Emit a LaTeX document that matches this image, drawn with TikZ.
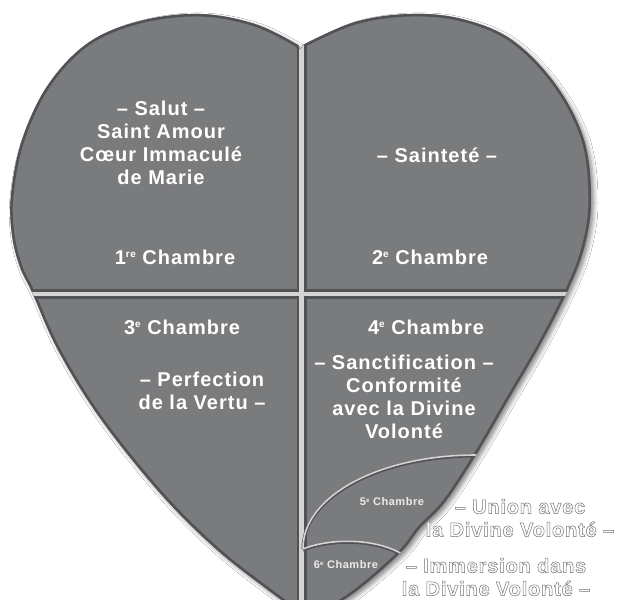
\documentclass[tikz,border=0pt]{standalone}
\usepackage{fontspec}
\setmainfont{Liberation Sans}
\newfontfamily\hfont[LetterSpace=5]{Liberation Sans Bold}
\newfontfamily\ofont[LetterSpace=4]{Liberation Sans Bold}
\usetikzlibrary{shadows.blur}
\definecolor{heartgray}{HTML}{7A7B7D}
\definecolor{rimgray}{HTML}{515256}
\definecolor{gapgray}{HTML}{D4D4D4}
\newcommand{\supx}[1]{\raisebox{0.62ex}{\fontsize{10}{10}\selectfont #1}}
\newcommand{\supsmall}[1]{\raisebox{0.6ex}{\fontsize{6}{6}\selectfont #1}}
\newcommand{\outl}[1]{\special{pdf:literal direct 2 Tr 0.5 w 0.45 0.45 0.45 RG}#1\special{pdf:literal direct 0 Tr}}
\newcommand{\heartshape}{(300,50) -- plot[smooth,tension=0.6] coordinates {(298,45) (255,24) (200,14) (140,21) (88,43) (48,85) (22,140) (11,195) (12,235) (20,267) (32,292) (58,350) (100,418) (160,493) (215,548) (268,590) (310,620)} -- plot[smooth,tension=0.6] coordinates {(310,620) (355,592) (400,553) (420,528) (445,502) (476,455) (508,400) (540,345) (567,292) (584,248) (591,200) (584,140) (556,85) (512,40) (462,19) (410,14) (355,22) (303,45)} -- cycle}
\tikzset{
  intext/.style={font=\hfont\fontsize{20}{23}\selectfont, text=white, align=center, inner sep=0pt},
  smalltext/.style={font=\hfont\fontsize{11}{13}\selectfont, text=white!92!black, inner sep=0pt},
  outtext/.style={font=\ofont\fontsize{20}{23}\selectfont, text=white, align=center, inner sep=0pt},
  divdark/.style={rimgray, line width=10pt},
  divlight/.style={gapgray, line width=4.5pt},
  arcdark/.style={rimgray, line width=3pt},
  arclight/.style={gapgray, line width=1.6pt},
}
\begin{document}
\begin{tikzpicture}[x=1pt,y=-1pt]
\fill[white] (0,0) rectangle (627,600);
\useasboundingbox (0,0) rectangle (627,600);
\fill[heartgray, blur shadow={shadow xshift=3pt, shadow yshift=-3pt, shadow blur radius=4pt, shadow opacity=45}] \heartshape;
\begin{scope}
  \clip \heartshape;
  \draw[rimgray, line width=5pt] \heartshape;
  \draw[divdark] (301.5,0) -- (301.5,640);
  \draw[divdark] (0,294) -- (627,294);
  \draw[divlight] (301.5,0) -- (301.5,640);
  \draw[divlight] (0,294) -- (627,294);
  \draw[arcdark, yshift=-1pt] (303,548) .. controls (303,497) and (378,455) .. (476,455) -- (500,455);
  \draw[arcdark, yshift=-1pt] (303,549) .. controls (330,538) and (375,538) .. (402,554) -- (412,560);
  \draw[arclight] (303,548) .. controls (303,497) and (378,455) .. (476,455) -- (500,455);
  \draw[arclight] (303,549) .. controls (330,538) and (375,538) .. (402,554) -- (412,560);
\end{scope}
\node[intext] (salut) at (161,143) {– Salut –\\Saint Amour\\Cœur Immaculé\\de Marie};
\node[intext] (saintete) at (437,155) {– Sainteté –};
\node[intext] (ch1) at (175,257) {1\supx{re} Chambre};
\node[intext] (ch2) at (430,257) {2\supx{e} Chambre};
\node[intext] (ch3) at (182,327) {3\supx{e} Chambre};
\node[intext] (ch4) at (426,327) {4\supx{e} Chambre};
\node[intext] (perf) at (202,391) {– Perfection\\de la Vertu –};
\node[intext] (sanct) at (404,397) {– Sanctification –\\Conformité\\avec la Divine\\Volonté};
\node[smalltext] (ch5) at (392,502) {5\supsmall{e} Chambre};
\node[smalltext] (ch6) at (346,565) {6\supsmall{e} Chambre};
\node[outtext] (union) at (520,518) {\outl{– Union avec}\\\outl{la Divine Volonté –}};
\node[outtext] (immer) at (496,577) {\outl{– Immersion dans}\\\outl{la Divine Volonté –}};
\end{tikzpicture}
\end{document}
